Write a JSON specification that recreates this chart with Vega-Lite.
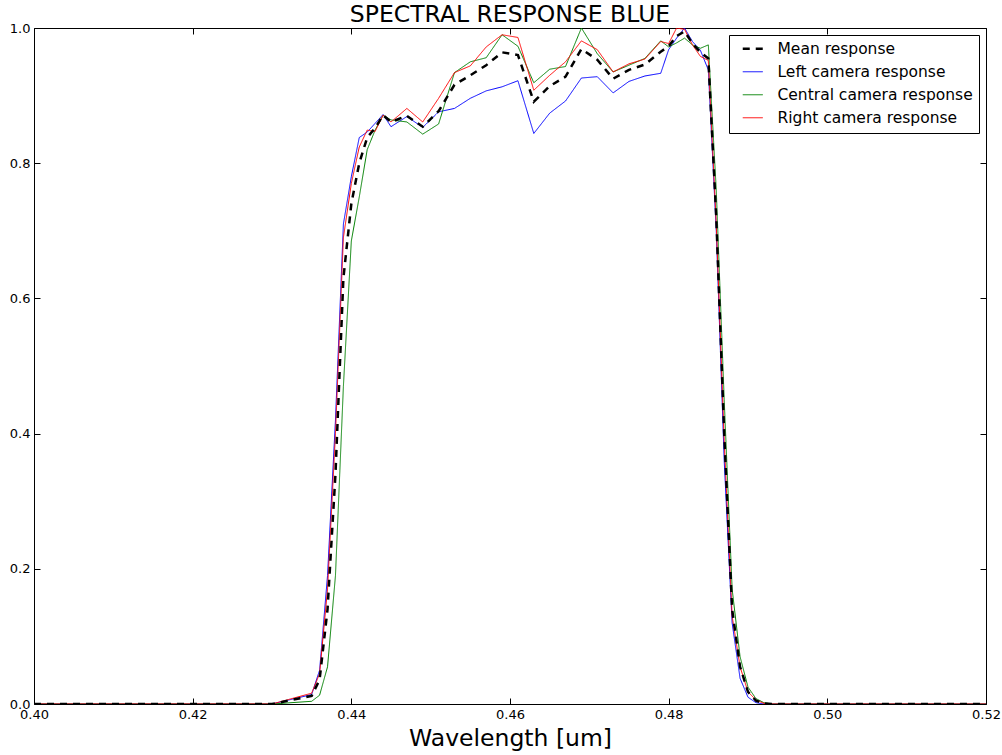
{
  "$schema": "https://vega.github.io/schema/vega-lite/v6.json",
  "width": 952,
  "height": 676,
  "autosize": {"type": "none"},
  "padding": {"left": 34, "top": 28, "right": 16, "bottom": 51},
  "background": "white",
  "title": {"text": "SPECTRAL RESPONSE BLUE", "fontSize": 23.5, "font": "DejaVu Sans", "fontWeight": "normal", "color": "black", "offset": -4},
  "config": {"view": {"stroke": "black", "strokeWidth": 1}, "font": "DejaVu Sans"},
  "datasets": {
    "spec": [
      {"wl": 0.400, "s": "Left", "v": 0}, {"wl": 0.430, "s": "Left", "v": 0}, {"wl": 0.435, "s": "Left", "v": 0.014}, {"wl": 0.436, "s": "Left", "v": 0.05}, {"wl": 0.437, "s": "Left", "v": 0.19}, {"wl": 0.438, "s": "Left", "v": 0.42}, {"wl": 0.439, "s": "Left", "v": 0.71}, {"wl": 0.440, "s": "Left", "v": 0.78}, {"wl": 0.441, "s": "Left", "v": 0.838}, {"wl": 0.442, "s": "Left", "v": 0.846}, {"wl": 0.443, "s": "Left", "v": 0.859}, {"wl": 0.444, "s": "Left", "v": 0.872}, {"wl": 0.445, "s": "Left", "v": 0.854}, {"wl": 0.447, "s": "Left", "v": 0.869}, {"wl": 0.449, "s": "Left", "v": 0.853}, {"wl": 0.451, "s": "Left", "v": 0.876}, {"wl": 0.453, "s": "Left", "v": 0.881}, {"wl": 0.455, "s": "Left", "v": 0.896}, {"wl": 0.457, "s": "Left", "v": 0.907}, {"wl": 0.459, "s": "Left", "v": 0.913}, {"wl": 0.461, "s": "Left", "v": 0.922}, {"wl": 0.463, "s": "Left", "v": 0.844}, {"wl": 0.465, "s": "Left", "v": 0.874}, {"wl": 0.467, "s": "Left", "v": 0.892}, {"wl": 0.469, "s": "Left", "v": 0.926}, {"wl": 0.471, "s": "Left", "v": 0.928}, {"wl": 0.473, "s": "Left", "v": 0.904}, {"wl": 0.475, "s": "Left", "v": 0.921}, {"wl": 0.477, "s": "Left", "v": 0.929}, {"wl": 0.479, "s": "Left", "v": 0.933}, {"wl": 0.480, "s": "Left", "v": 0.968}, {"wl": 0.481, "s": "Left", "v": 0.985}, {"wl": 0.482, "s": "Left", "v": 1.0}, {"wl": 0.483, "s": "Left", "v": 0.98}, {"wl": 0.484, "s": "Left", "v": 0.967}, {"wl": 0.485, "s": "Left", "v": 0.938}, {"wl": 0.486, "s": "Left", "v": 0.70}, {"wl": 0.487, "s": "Left", "v": 0.36}, {"wl": 0.488, "s": "Left", "v": 0.12}, {"wl": 0.489, "s": "Left", "v": 0.038}, {"wl": 0.490, "s": "Left", "v": 0.01}, {"wl": 0.491, "s": "Left", "v": 0.002}, {"wl": 0.492, "s": "Left", "v": 0}, {"wl": 0.493, "s": "Left", "v": 0}, {"wl": 0.520, "s": "Left", "v": 0},
      {"wl": 0.400, "s": "Central", "v": 0}, {"wl": 0.430, "s": "Central", "v": 0}, {"wl": 0.435, "s": "Central", "v": 0.004}, {"wl": 0.436, "s": "Central", "v": 0.013}, {"wl": 0.437, "s": "Central", "v": 0.055}, {"wl": 0.438, "s": "Central", "v": 0.19}, {"wl": 0.439, "s": "Central", "v": 0.47}, {"wl": 0.440, "s": "Central", "v": 0.685}, {"wl": 0.441, "s": "Central", "v": 0.75}, {"wl": 0.442, "s": "Central", "v": 0.82}, {"wl": 0.443, "s": "Central", "v": 0.849}, {"wl": 0.444, "s": "Central", "v": 0.871}, {"wl": 0.445, "s": "Central", "v": 0.864}, {"wl": 0.447, "s": "Central", "v": 0.861}, {"wl": 0.449, "s": "Central", "v": 0.843}, {"wl": 0.451, "s": "Central", "v": 0.858}, {"wl": 0.453, "s": "Central", "v": 0.934}, {"wl": 0.455, "s": "Central", "v": 0.95}, {"wl": 0.457, "s": "Central", "v": 0.956}, {"wl": 0.459, "s": "Central", "v": 0.99}, {"wl": 0.461, "s": "Central", "v": 0.973}, {"wl": 0.463, "s": "Central", "v": 0.919}, {"wl": 0.465, "s": "Central", "v": 0.939}, {"wl": 0.467, "s": "Central", "v": 0.943}, {"wl": 0.469, "s": "Central", "v": 1.0}, {"wl": 0.471, "s": "Central", "v": 0.962}, {"wl": 0.473, "s": "Central", "v": 0.935}, {"wl": 0.475, "s": "Central", "v": 0.945}, {"wl": 0.477, "s": "Central", "v": 0.955}, {"wl": 0.479, "s": "Central", "v": 0.981}, {"wl": 0.480, "s": "Central", "v": 0.972}, {"wl": 0.481, "s": "Central", "v": 0.978}, {"wl": 0.482, "s": "Central", "v": 0.985}, {"wl": 0.483, "s": "Central", "v": 0.975}, {"wl": 0.484, "s": "Central", "v": 0.97}, {"wl": 0.485, "s": "Central", "v": 0.975}, {"wl": 0.486, "s": "Central", "v": 0.76}, {"wl": 0.487, "s": "Central", "v": 0.45}, {"wl": 0.488, "s": "Central", "v": 0.17}, {"wl": 0.489, "s": "Central", "v": 0.07}, {"wl": 0.490, "s": "Central", "v": 0.025}, {"wl": 0.491, "s": "Central", "v": 0.008}, {"wl": 0.492, "s": "Central", "v": 0.002}, {"wl": 0.493, "s": "Central", "v": 0}, {"wl": 0.520, "s": "Central", "v": 0},
      {"wl": 0.400, "s": "Right", "v": 0}, {"wl": 0.430, "s": "Right", "v": 0}, {"wl": 0.435, "s": "Right", "v": 0.016}, {"wl": 0.436, "s": "Right", "v": 0.045}, {"wl": 0.437, "s": "Right", "v": 0.17}, {"wl": 0.438, "s": "Right", "v": 0.40}, {"wl": 0.439, "s": "Right", "v": 0.69}, {"wl": 0.440, "s": "Right", "v": 0.77}, {"wl": 0.441, "s": "Right", "v": 0.824}, {"wl": 0.442, "s": "Right", "v": 0.849}, {"wl": 0.443, "s": "Right", "v": 0.847}, {"wl": 0.444, "s": "Right", "v": 0.871}, {"wl": 0.445, "s": "Right", "v": 0.861}, {"wl": 0.447, "s": "Right", "v": 0.881}, {"wl": 0.449, "s": "Right", "v": 0.861}, {"wl": 0.451, "s": "Right", "v": 0.896}, {"wl": 0.453, "s": "Right", "v": 0.934}, {"wl": 0.455, "s": "Right", "v": 0.944}, {"wl": 0.457, "s": "Right", "v": 0.972}, {"wl": 0.459, "s": "Right", "v": 0.99}, {"wl": 0.461, "s": "Right", "v": 0.986}, {"wl": 0.463, "s": "Right", "v": 0.908}, {"wl": 0.465, "s": "Right", "v": 0.93}, {"wl": 0.467, "s": "Right", "v": 0.95}, {"wl": 0.469, "s": "Right", "v": 0.981}, {"wl": 0.471, "s": "Right", "v": 0.968}, {"wl": 0.473, "s": "Right", "v": 0.935}, {"wl": 0.475, "s": "Right", "v": 0.947}, {"wl": 0.477, "s": "Right", "v": 0.954}, {"wl": 0.479, "s": "Right", "v": 0.98}, {"wl": 0.480, "s": "Right", "v": 0.977}, {"wl": 0.481, "s": "Right", "v": 1.0}, {"wl": 0.482, "s": "Right", "v": 0.998}, {"wl": 0.483, "s": "Right", "v": 0.975}, {"wl": 0.484, "s": "Right", "v": 0.958}, {"wl": 0.485, "s": "Right", "v": 0.952}, {"wl": 0.486, "s": "Right", "v": 0.71}, {"wl": 0.487, "s": "Right", "v": 0.39}, {"wl": 0.488, "s": "Right", "v": 0.13}, {"wl": 0.489, "s": "Right", "v": 0.055}, {"wl": 0.490, "s": "Right", "v": 0.018}, {"wl": 0.491, "s": "Right", "v": 0.006}, {"wl": 0.492, "s": "Right", "v": 0.001}, {"wl": 0.493, "s": "Right", "v": 0}, {"wl": 0.520, "s": "Right", "v": 0},
      {"wl": 0.400, "s": "Mean", "v": 0}, {"wl": 0.430, "s": "Mean", "v": 0}, {"wl": 0.435, "s": "Mean", "v": 0.012}, {"wl": 0.436, "s": "Mean", "v": 0.036}, {"wl": 0.437, "s": "Mean", "v": 0.14}, {"wl": 0.438, "s": "Mean", "v": 0.34}, {"wl": 0.439, "s": "Mean", "v": 0.63}, {"wl": 0.440, "s": "Mean", "v": 0.74}, {"wl": 0.441, "s": "Mean", "v": 0.80}, {"wl": 0.442, "s": "Mean", "v": 0.838}, {"wl": 0.443, "s": "Mean", "v": 0.852}, {"wl": 0.444, "s": "Mean", "v": 0.871}, {"wl": 0.445, "s": "Mean", "v": 0.861}, {"wl": 0.447, "s": "Mean", "v": 0.870}, {"wl": 0.449, "s": "Mean", "v": 0.854}, {"wl": 0.451, "s": "Mean", "v": 0.877}, {"wl": 0.453, "s": "Mean", "v": 0.916}, {"wl": 0.455, "s": "Mean", "v": 0.930}, {"wl": 0.457, "s": "Mean", "v": 0.945}, {"wl": 0.459, "s": "Mean", "v": 0.964}, {"wl": 0.461, "s": "Mean", "v": 0.960}, {"wl": 0.463, "s": "Mean", "v": 0.891}, {"wl": 0.465, "s": "Mean", "v": 0.914}, {"wl": 0.467, "s": "Mean", "v": 0.928}, {"wl": 0.469, "s": "Mean", "v": 0.969}, {"wl": 0.471, "s": "Mean", "v": 0.953}, {"wl": 0.473, "s": "Mean", "v": 0.925}, {"wl": 0.475, "s": "Mean", "v": 0.938}, {"wl": 0.477, "s": "Mean", "v": 0.946}, {"wl": 0.479, "s": "Mean", "v": 0.965}, {"wl": 0.480, "s": "Mean", "v": 0.973}, {"wl": 0.481, "s": "Mean", "v": 0.988}, {"wl": 0.482, "s": "Mean", "v": 0.995}, {"wl": 0.483, "s": "Mean", "v": 0.977}, {"wl": 0.484, "s": "Mean", "v": 0.964}, {"wl": 0.485, "s": "Mean", "v": 0.955}, {"wl": 0.486, "s": "Mean", "v": 0.72}, {"wl": 0.487, "s": "Mean", "v": 0.40}, {"wl": 0.488, "s": "Mean", "v": 0.14}, {"wl": 0.489, "s": "Mean", "v": 0.055}, {"wl": 0.490, "s": "Mean", "v": 0.018}, {"wl": 0.491, "s": "Mean", "v": 0.005}, {"wl": 0.492, "s": "Mean", "v": 0.001}, {"wl": 0.493, "s": "Mean", "v": 0}, {"wl": 0.520, "s": "Mean", "v": 0}
    ]
  },
  "data": {"name": "spec"},
  "layer": [
    {
      "transform": [{"filter": "datum.s != 'Mean'"}],
      "mark": {"type": "line", "clip": true, "strokeWidth": 1},
      "encoding": {
        "x": {"field": "wl", "type": "quantitative", "scale": {"domain": [0.40, 0.52], "nice": false, "zero": false},
          "axis": {"orient": "bottom", "values": [0.40, 0.42, 0.44, 0.46, 0.48, 0.50, 0.52], "format": ".2f", "title": "Wavelength [um]", "titleFontSize": 23.5, "titleFont": "DejaVu Sans", "titleFontWeight": "normal", "titleColor": "black", "titlePadding": 5, "labelFontSize": 13, "labelFont": "DejaVu Sans", "labelColor": "black", "labelFlush": false, "labelOverlap": false, "labelPadding": 10, "tickSize": -6, "tickColor": "black", "domain": false, "grid": false}},
        "y": {"field": "v", "type": "quantitative", "scale": {"domain": [0, 1], "nice": false},
          "axis": {"orient": "left", "values": [0, 0.2, 0.4, 0.6, 0.8, 1.0], "format": ".1f", "title": null, "labelFontSize": 13, "labelFont": "DejaVu Sans", "labelColor": "black", "labelFlush": false, "labelOverlap": false, "labelPadding": 10, "tickSize": -6, "tickColor": "black", "domain": false, "grid": false}},
        "color": {"field": "s", "type": "nominal", "scale": {"domain": ["Mean", "Left", "Central", "Right"], "range": ["#000000", "#0000ff", "#008000", "#ff0000"]},
          "legend": {"orient": "none", "legendX": 695, "legendY": 7, "title": null, "strokeColor": "black", "fillColor": "white", "padding": 6, "cornerRadius": 0, "symbolType": "stroke", "symbolSize": 400, "symbolOffset": 10, "labelFontSize": 15.5, "labelFont": "DejaVu Sans", "labelColor": "black", "labelOffset": 17, "labelLimit": 400, "rowPadding": 6,
            "labelExpr": "datum.label == 'Mean' ? 'Mean response' : datum.label + ' camera response'",
            "encode": {"symbols": {"update": {"strokeWidth": {"signal": "datum.value == 'Mean' ? 2.5 : 1"}}}}}},
        "strokeDash": {"field": "s", "type": "nominal", "scale": {"domain": ["Mean", "Left", "Central", "Right"], "range": [[7, 6], [1, 0], [1, 0], [1, 0]]}, "legend": null}
      }
    },
    {
      "transform": [{"filter": "datum.s == 'Mean'"}],
      "mark": {"type": "line", "clip": true, "strokeWidth": 2.5},
      "encoding": {
        "x": {"field": "wl", "type": "quantitative", "axis": {"orient": "top", "values": [0.40, 0.42, 0.44, 0.46, 0.48, 0.50, 0.52], "labels": false, "title": null, "tickSize": -6, "tickColor": "black", "domain": false, "grid": false}},
        "y": {"field": "v", "type": "quantitative", "axis": {"orient": "right", "values": [0, 0.2, 0.4, 0.6, 0.8, 1.0], "labels": false, "title": null, "tickSize": -6, "tickColor": "black", "domain": false, "grid": false}},
        "color": {"field": "s", "type": "nominal"},
        "strokeDash": {"field": "s", "type": "nominal"}
      }
    }
  ],
  "resolve": {"axis": {"x": "independent", "y": "independent"}}
}
